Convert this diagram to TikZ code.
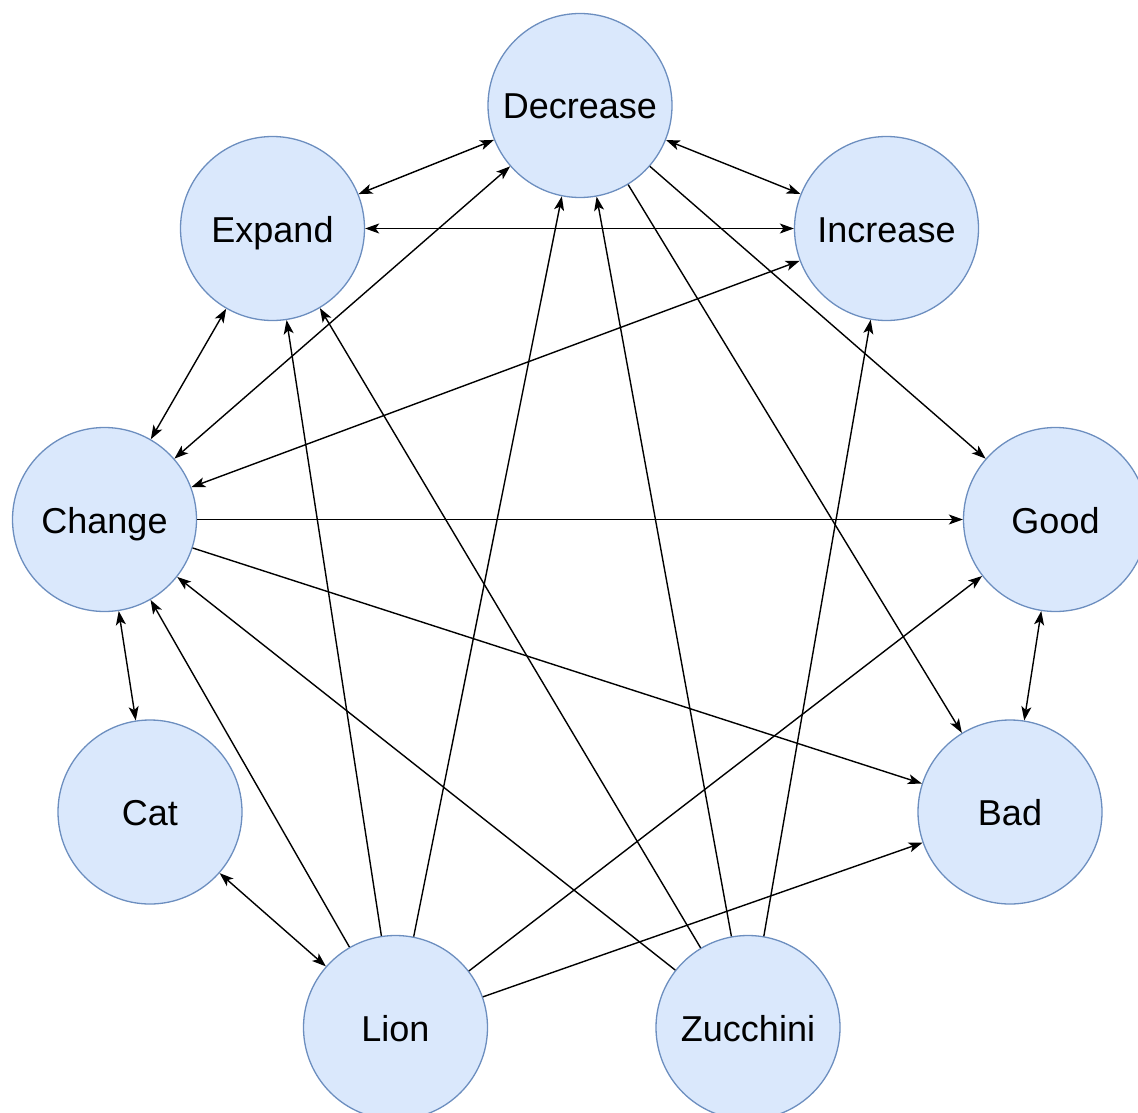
\documentclass[tikz,border=0pt]{standalone}
\usepackage{fontspec}
\setmainfont{Liberation Sans}
\usetikzlibrary{arrows.meta}
\definecolor{nodefill}{HTML}{DAE8FC}
\definecolor{nodeline}{HTML}{6C8EBF}
\begin{document}
\begin{tikzpicture}[x=1pt,y=-1pt,
  concept/.style={circle,draw=nodeline,fill=nodefill,line width=1.3pt,
    minimum size=184pt,inner sep=0pt,text height=33pt,text depth=6pt,
    font=\fontsize{36}{43}\selectfont},
  tip/.style={Stealth[length=14pt,width=10pt,inset=3.5pt]},
  link/.style={line width=1.4pt,-{Stealth[length=14pt,width=10pt,inset=3.5pt]}},
  both/.style={line width=1.4pt,{Stealth[length=14pt,width=10pt,inset=3.5pt]}-{Stealth[length=14pt,width=10pt,inset=3.5pt]}}]
\useasboundingbox (0,0) rectangle (1138,1113);
\clip (0,0) rectangle (1138,1113);
\node[concept] (dec) at (580,105.5) {Decrease};
\node[concept] (exp) at (272.5,228.5) {Expand};
\node[concept] (inc) at (886.5,228.5) {Increase};
\node[concept] (chg) at (104.5,519.5) {Change};
\node[concept] (good) at (1055.5,519.5) {Good};
\node[concept] (cat) at (150,812) {Cat};
\node[concept] (bad) at (1010,812) {Bad};
\node[concept] (lion) at (395.5,1027.5) {Lion};
\node[concept] (zuc) at (748,1027.5) {Zucchini};
% two-way links
\draw[both] (exp) -- (dec);
\draw[both] (dec) -- (inc);
\draw[both] (exp) -- (inc);
\draw[both] (exp) -- (chg);
\draw[both] (dec) -- (chg);
\draw[both] (inc) -- (chg);
\draw[both] (chg) -- (cat);
\draw[both] (good) -- (bad);
\draw[both] (cat) -- (lion);
% one-way links
\draw[link] (chg) -- (good);
\draw[link] (chg) -- (bad);
\draw[link] (dec) -- (good);
\draw[link] (dec) -- (bad);
\draw[link] (lion) -- (chg);
\draw[link] (lion) -- (exp);
\draw[link] (lion) -- (dec);
\draw[link] (lion) -- (good);
\draw[link] (lion) -- (bad);
\draw[link] (zuc) -- (chg);
\draw[link] (zuc) -- (exp);
\draw[link] (zuc) -- (dec);
\draw[link] (zuc) -- (inc);
\end{tikzpicture}
\end{document}
